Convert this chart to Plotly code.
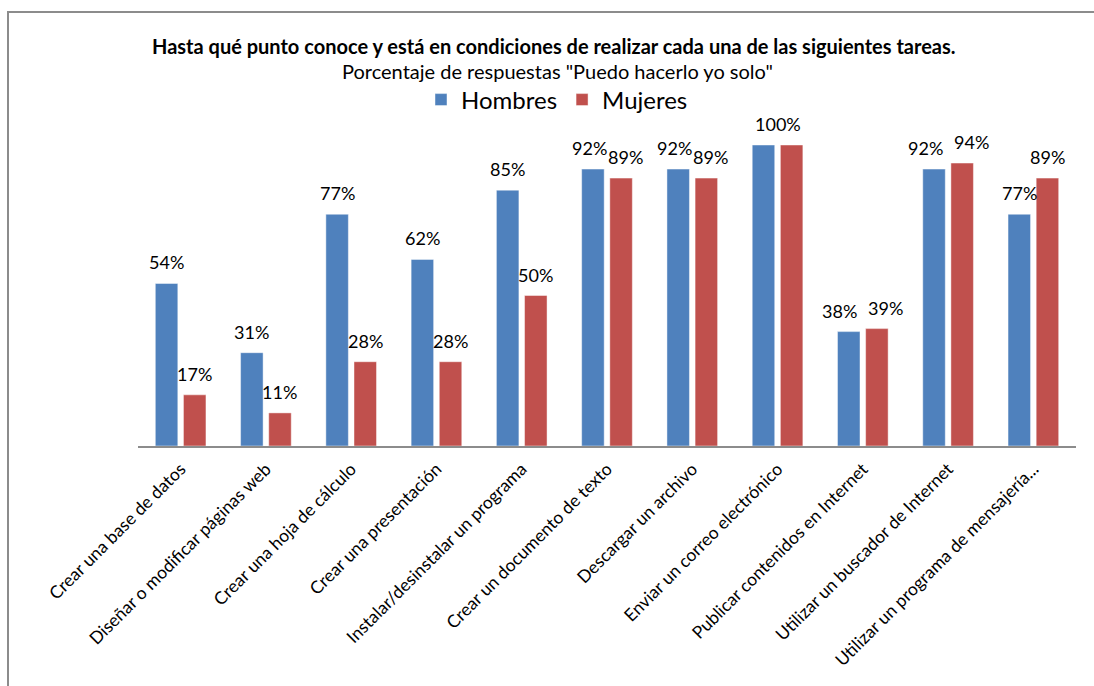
import plotly.graph_objects as go

# Tareas evaluadas
categorias = [
    "Crear una base de datos",
    "Diseñar o modificar páginas web",
    "Crear una hoja de cálculo",
    "Crear una presentación",
    "Instalar/desinstalar un programa",
    "Crear un documento de texto",
    "Descargar un archivo",
    "Enviar un correo electrónico",
    "Publicar contenidos en Internet",
    "Utilizar un buscador de Internet",
    "Utilizar un programa de mensajería...",
]
# Porcentaje de respuestas "Puedo hacerlo yo solo"
hombres = [54, 31, 77, 62, 85, 92, 92, 100, 38, 92, 77]
mujeres = [17, 11, 28, 28, 50, 89, 89, 100, 39, 94, 89]

titulo = "Hasta qué punto conoce y está en condiciones de realizar cada una de las siguientes tareas."
subtitulo = 'Porcentaje de respuestas "Puedo hacerlo yo solo"'

FONT = "Lato"
AZUL = "#4F81BD"
ROJO = "#C0504D"

W, H = 1094, 686
ML, MR, MT, MB = 138, 18, 145, 240
pw = W - ML - MR
ph = H - MT - MB


def px_x(x):
    return (x - ML) / pw


def px_y(y):
    return (H - MB - y) / ph


fig = go.Figure()
fig.add_trace(go.Bar(name="Hombres", x=categorias, y=hombres,
                     marker=dict(color=AZUL, line=dict(color="rgba(255,255,255,0.45)", width=1))))
fig.add_trace(go.Bar(name="Mujeres", x=categorias, y=mujeres,
                     marker=dict(color=ROJO, line=dict(color="rgba(255,255,255,0.45)", width=1))))

# Etiquetas de valor sobre cada barra
annotations = []
label_font = dict(family=FONT, size=18, color="black")
for i, cat in enumerate(categorias):
    h, m = hombres[i], mujeres[i]
    if h == m:
        annotations.append(dict(x=cat, y=h, text=f"{h}%", showarrow=False, xref="x", yref="y",
                                yanchor="bottom", yshift=8, font=label_font))
        continue
    # separar etiquetas casi a la misma altura
    d = abs(h - m)
    off = 23 if d <= 2 else (18 if d <= 4 else 14)
    for val, shift in ((h, -off), (m, off)):
        annotations.append(dict(x=cat, y=val, text=f"{val}%", showarrow=False, xref="x", yref="y",
                                xshift=shift, yanchor="bottom", yshift=8, font=label_font))

annotations.append(dict(x=px_x(554), y=px_y(46), xref="paper", yref="paper", text=f"<b>{titulo}</b>",
                        showarrow=False, xanchor="center", yanchor="middle",
                        font=dict(family=FONT, size=20, color="black")))
annotations.append(dict(x=px_x(557), y=px_y(71), xref="paper", yref="paper", text=subtitulo,
                        showarrow=False, xanchor="center", yanchor="middle",
                        font=dict(family=FONT, size=20, color="black")))

fig.update_layout(
    width=W, height=H,
    margin=dict(l=ML, r=MR, t=MT, b=MB),
    paper_bgcolor="white", plot_bgcolor="white",
    barmode="group", bargap=0.34, bargroupgap=0.2,
    annotations=annotations,
    showlegend=True,
    legend=dict(orientation="h", x=px_x(557), xanchor="center", y=px_y(100), yanchor="middle",
                font=dict(family=FONT, size=24, color="black"), itemclick=False, bgcolor="rgba(0,0,0,0)"),
    xaxis=dict(tickangle=-45, tickfont=dict(family=FONT, size=17.5, color="black"),
               ticklabelstandoff=4,
               showline=True, linecolor="#8c8c8c", linewidth=2, ticks="", showgrid=False),
    yaxis=dict(range=[0, 100], visible=False, showgrid=False),
    shapes=[dict(type="rect", xref="paper", yref="paper",
                 x0=px_x(8), x1=px_x(1110), y0=px_y(700), y1=px_y(12),
                 line=dict(color="#8c8c8c", width=2), fillcolor="rgba(0,0,0,0)", layer="below")],
)

fig.write_html("out.html")
